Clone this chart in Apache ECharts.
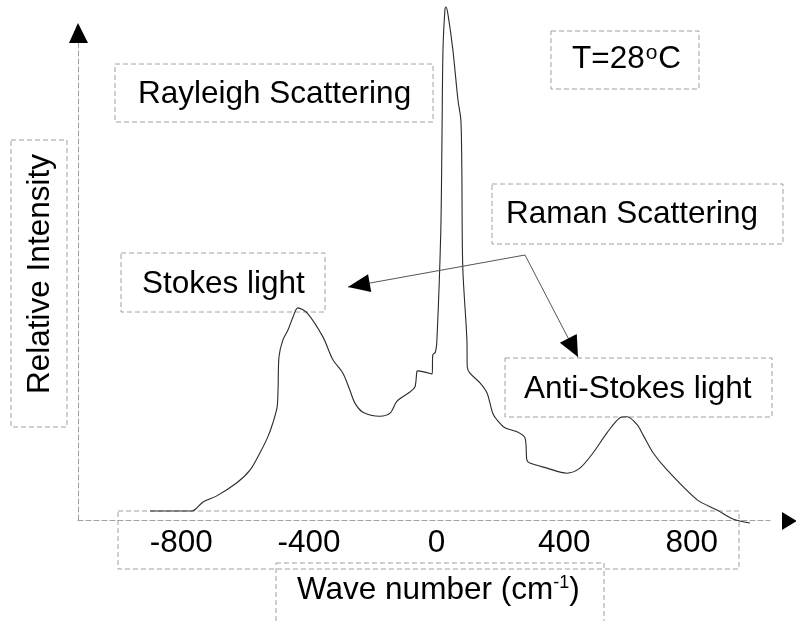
<!DOCTYPE html>
<html>
<head>
<meta charset="utf-8">
<script src="https://cdn.jsdelivr.net/npm/echarts@6/dist/echarts.min.js"></script>
<style>
html,body{margin:0;padding:0;background:#fff;}
#chart{width:796px;height:621px;}
</style>
</head>
<body>
<div id="chart"></div>
<script>
// ---- data ----
const wavenumber = [-898,-767,-732,-689,-626,-585,-554,-529,-513,-500,-497,-494,-482,-466,-450,-435,-406,-356,-325,-294,-272,-256,-231,-178,-146,-124,-84,-68,-62,-59,-14,-12,-4,1,13,17,20,26,29,35,51,67,76,79,82,95,96,104,136,158,176,189,214,252,277,283,292,346,408,449,490,534,575,597,629,647,679,723,817,879,929,982];
const intensity  = [0,0,1.8,3.0,5.6,8.1,11.5,14.7,17.5,20.6,24.0,30.6,33.9,35.9,38.5,40.3,39.3,34.5,30.0,27.4,24.0,21.4,19.6,18.8,19.4,21.8,23.6,24.6,27.6,27.8,27.2,31.0,31.5,33.9,55.2,75.0,91.5,99.4,100,98.8,91.5,81.5,77.6,68.3,48.4,33.9,28.6,27.4,25.4,23.4,19.4,18.1,16.5,15.7,14.5,10.1,9.5,8.5,7.5,8.5,11.5,15.5,18.5,18.7,17.1,15.1,11.5,8.1,2.2,0.2,-1.6,-2.4];
const xTickLabels = [-800,-400,0,400,800];
const xTitle = 'Wave number (cm';
const xTitleSup = '-1';
const yTitle = 'Relative Intensity';
const tempText = 'T=28';
const annotRayleigh = 'Rayleigh Scattering';
const annotRaman = 'Raman Scattering';
const annotStokes = 'Stokes light';
const annotAnti = 'Anti-Stokes light';

const FONT = '"Liberation Sans", Arial, sans-serif';
const FS = 31.5;
const chart = echarts.init(document.getElementById('chart'), null, {renderer:'canvas'});

function box(x1,y1,x2,y2){
  return {type:'rect', shape:{x:x1,y:y1,width:x2-x1,height:y2-y1}, silent:true,
    style:{fill:null, stroke:'#a0a0a0', lineWidth:1, lineDash:[5,3]}, z:1};
}
function txt(s,x,y,extra){
  return Object.assign({type:'text', x:x, y:y, silent:true, z:5,
    style:{text:s, fontSize:FS, fontFamily:FONT, fill:'#000', align:'left', verticalAlign:'middle'}}, extra||{});
}
function head(tip, from, len, wid){
  const dx=tip[0]-from[0], dy=tip[1]-from[1], d=Math.hypot(dx,dy), ux=dx/d, uy=dy/d;
  const bx=tip[0]-ux*len, by=tip[1]-uy*len, px=-uy*wid/2, py=ux*wid/2;
  return {type:'polygon', silent:true, z:6, shape:{points:[tip,[bx+px,by+py],[bx-px,by-py]]}, style:{fill:'#000'}};
}
function line(p1,p2,color){
  return {type:'line', silent:true, z:4, shape:{x1:p1[0],y1:p1[1],x2:p2[0],y2:p2[1]}, style:{stroke:color||'#555', lineWidth:1}};
}

const hub=[525,255], stokesTip=[348,287], antiTip=[578,357];

chart.setOption({
  animation:false,
  backgroundColor:'#fff',
  grid:{left:78, right:26, top:43, bottom:101, containLabel:false},
  xAxis:{type:'value', min:-1124, max:1045,
    axisLine:{show:true, onZero:false, lineStyle:{color:'#a0a0a0', type:[5,3], width:1}},
    axisTick:{show:false}, splitLine:{show:false},
    axisLabel:{customValues:xTickLabels, fontSize:FS, fontFamily:FONT, color:'#000', margin:7}},
  yAxis:{type:'value', min:-1.79, max:92.86,
    axisLine:{show:true, onZero:false, lineStyle:{color:'#a0a0a0', type:[5,3], width:1}},
    axisTick:{show:false}, splitLine:{show:false}, axisLabel:{show:false}},
  series:[{type:'line', data:wavenumber.map((w,i)=>[w,intensity[i]]), showSymbol:false, clip:false,
    smooth:0.3, lineStyle:{color:'#2a2a2a', width:1.1}}],
  graphic:[
    box(115,64,433,122), txt(annotRayleigh,138,94),
    box(551,31,699,89),
    {type:'text', x:572, y:59, silent:true, z:5, style:{
      text:'{a|'+tempText+'}{s|o}{a|C}', fontFamily:FONT, fill:'#000', align:'left', verticalAlign:'middle',
      rich:{a:{fontSize:FS, fontFamily:FONT, fill:'#000'}, s:{fontSize:21, fontFamily:FONT, fill:'#000', verticalAlign:'top', padding:[0,1,0,1]}}}},
    box(492,184,783,244), txt(annotRaman,506,214),
    box(121,253,325,312), txt(annotStokes,142,284),
    box(505,358,772,417), txt(annotAnti,524,389),
    box(11,140,67,427),
    {type:'text', x:40.5, y:274, rotation:Math.PI/2, silent:true, z:5,
      style:{text:yTitle, fontSize:FS, fontFamily:FONT, fill:'#000', align:'center', verticalAlign:'middle'}},
    box(276,563,604,640),
    {type:'text', x:297, y:590, silent:true, z:5, style:{
      text:'{a|'+xTitle+'}{s|'+xTitleSup+'}{a|)}', fontFamily:FONT, fill:'#000', align:'left', verticalAlign:'middle',
      rich:{a:{fontSize:FS, fontFamily:FONT, fill:'#000'}, s:{fontSize:18, fontFamily:FONT, fill:'#000', verticalAlign:'top'}}}},
    box(118,511,739,569),
    line(hub,stokesTip), line(hub,antiTip),
    head(stokesTip,hub,22,18), head(antiTip,hub,21,19),
    {type:'polygon', silent:true, z:6, shape:{points:[[78,23],[69,43],[88,43]]}, style:{fill:'#000'}},
    {type:'polygon', silent:true, z:6, shape:{points:[[797,521],[782,512],[782,530]]}, style:{fill:'#000'}}
  ]
});
</script>
</body>
</html>
